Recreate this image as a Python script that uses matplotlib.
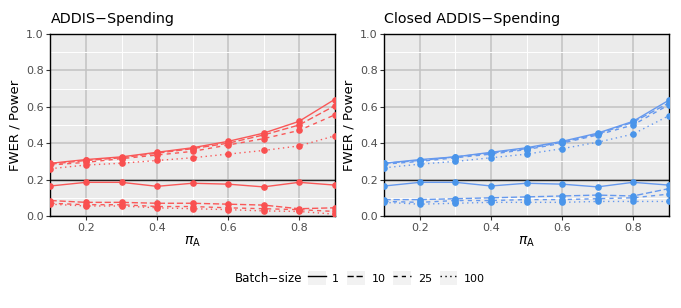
import numpy as np
import matplotlib.pyplot as plt
from matplotlib.lines import Line2D
from matplotlib.patches import Patch
from matplotlib.legend_handler import HandlerTuple

pi_a = [0.1, 0.2, 0.3, 0.4, 0.5, 0.6, 0.7, 0.8, 0.9]
batch = ['1', '10', '25', '100']

# ADDIS-Spending
addis_power = {
    '1':   [0.290, 0.310, 0.325, 0.350, 0.375, 0.410, 0.455, 0.520, 0.640],
    '10':  [0.285, 0.305, 0.320, 0.345, 0.370, 0.400, 0.445, 0.500, 0.605],
    '25':  [0.280, 0.295, 0.315, 0.335, 0.355, 0.390, 0.425, 0.470, 0.555],
    '100': [0.260, 0.280, 0.290, 0.305, 0.320, 0.340, 0.360, 0.385, 0.440],
}
addis_fwer = {
    '1':   [0.165, 0.185, 0.185, 0.163, 0.180, 0.175, 0.160, 0.185, 0.170],
    '10':  [0.085, 0.075, 0.075, 0.070, 0.070, 0.065, 0.060, 0.040, 0.045],
    '25':  [0.070, 0.062, 0.062, 0.052, 0.052, 0.045, 0.040, 0.035, 0.025],
    '100': [0.065, 0.055, 0.055, 0.045, 0.040, 0.035, 0.028, 0.025, 0.010],
}

# Closed ADDIS-Spending
closed_power = {
    '1':   [0.290, 0.310, 0.325, 0.350, 0.375, 0.410, 0.455, 0.520, 0.635],
    '10':  [0.290, 0.305, 0.325, 0.345, 0.370, 0.405, 0.450, 0.515, 0.620],
    '25':  [0.285, 0.300, 0.320, 0.340, 0.365, 0.400, 0.445, 0.500, 0.610],
    '100': [0.265, 0.285, 0.300, 0.320, 0.340, 0.370, 0.405, 0.450, 0.550],
}
closed_fwer = {
    '1':   [0.165, 0.185, 0.185, 0.165, 0.180, 0.175, 0.160, 0.185, 0.170],
    '10':  [0.090, 0.090, 0.095, 0.100, 0.105, 0.110, 0.115, 0.110, 0.150],
    '25':  [0.080, 0.075, 0.085, 0.085, 0.090, 0.090, 0.095, 0.100, 0.120],
    '100': [0.075, 0.065, 0.070, 0.075, 0.075, 0.075, 0.080, 0.080, 0.080],
}

styles = {
    '1': '-',
    '10': (0, (4.5, 2)),
    '25': (0, (3, 3)),
    '100': (0, (1, 2.5)),
}

fig = plt.figure(figsize=(6.81, 3.08), dpi=100)
ax1 = fig.add_axes([50.5 / 681, 1 - 216 / 308, 284 / 681, 182 / 308])
ax2 = fig.add_axes([384.5 / 681, 1 - 216 / 308, 284 / 681, 182 / 308])


def draw(ax, power, fwer, col, pcol, title):
    ax.set_facecolor('#EBEBEB')
    ax.set_xticks([0.2, 0.4, 0.6, 0.8])
    ax.set_xticklabels(['0.2', '0.4', '0.6', '0.8'])
    ax.set_xticks([0.3, 0.5, 0.7], minor=True)
    yt = [0.0, 0.2, 0.4, 0.6, 0.8, 1.0]
    ax.set_yticks(yt)
    ax.set_yticklabels(['%.1f' % v for v in yt])
    ax.set_yticks([0.1, 0.3, 0.5, 0.7, 0.9], minor=True)
    ax.set_xlim(0.1, 0.9)
    ax.set_ylim(0, 1)
    ax.grid(which='major', color='#C2C2C2', lw=1.1)
    ax.grid(which='minor', color='white', lw=0.7)
    ax.set_axisbelow(True)
    ax.tick_params(which='major', length=3, width=0.8, color='#333333',
                   labelsize=8, labelcolor='#4D4D4D', pad=2)
    ax.tick_params(which='minor', length=0)
    for s in ax.spines.values():
        s.set_linewidth(1.0)
        s.set_color('black')
    ax.axhline(0.2, color='#222222', lw=1.0, zorder=2)
    for b in batch:
        for d in (power, fwer):
            ax.plot(pi_a, d[b], color=col, ls=styles[b], lw=1.0, zorder=3)
            ax.plot(pi_a, d[b], ls='none', marker='o', ms=4.8, color=pcol,
                    mec='none', zorder=4)
    ax.set_title(title, loc='left', fontsize=10.3, pad=8)
    ax.set_xlabel(r'$\pi_\mathrm{A}$', fontsize=10, labelpad=1)
    ax.set_ylabel('FWER / Power', fontsize=9.5, labelpad=3)


draw(ax1, addis_power, addis_fwer, '#F95858', '#F95050', 'ADDIS\u2212Spending')
draw(ax2, closed_power, closed_fwer, '#6699EE', '#4A95EA', 'Closed ADDIS\u2212Spending')

handles = [(Patch(facecolor='#F2F2F2', edgecolor='none'),
            Line2D([], [], color='black', ls=styles[b], lw=1.0)) for b in batch]
fig.text(235 / 681, 1 - 278 / 308, 'Batch\u2212size', fontsize=8.6,
         va='center', ha='left')
fig.legend(handles, batch, handler_map={tuple: HandlerTuple(ndivide=1)},
           loc='center left', bbox_to_anchor=(300 / 681, 1 - 278 / 308),
           ncol=4, frameon=False, fontsize=8, handlelength=1.6,
           handleheight=1.5, handletextpad=0.6, columnspacing=0.7,
           borderpad=0.2)

plt.savefig('out.png', dpi=100)
